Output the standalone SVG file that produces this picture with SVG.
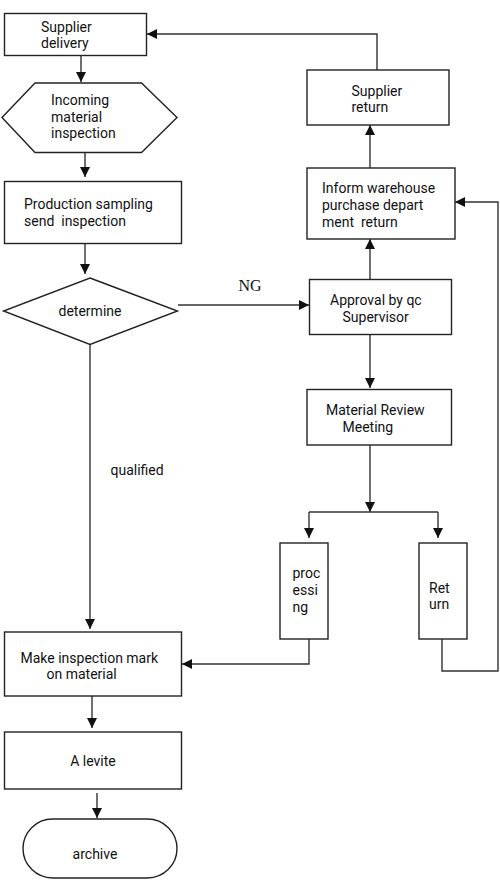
<svg xmlns="http://www.w3.org/2000/svg" width="500" height="890" viewBox="0 0 500 890">
<style>
.box{fill:#fff;stroke:#222;stroke-width:1.4}
.t{font-family:Roboto,"Noto Sans","Liberation Sans",sans-serif;font-size:14px;fill:#111;white-space:pre}
.c{text-anchor:middle}
.ln{fill:none;stroke:#333;stroke-width:1.4}
</style>
<defs>
<marker id="ah" viewBox="0 0 10 10" refX="10" refY="5" markerWidth="10" markerHeight="10" markerUnits="userSpaceOnUse" orient="auto">
<path d="M0,0 L10,5 L0,10 Z" fill="#111"/>
</marker>
</defs>
<rect width="500" height="890" fill="#fff"/>
<g id="connectors">
<path class="ln" d="M377,70 V34 H147" marker-end="url(#ah)"/>
<path class="ln" d="M81,55 V82" marker-end="url(#ah)"/>
<path class="ln" d="M85,153 V177" marker-end="url(#ah)"/>
<path class="ln" d="M85,243 V274" marker-end="url(#ah)"/>
<path class="ln" d="M178,305 H309" marker-end="url(#ah)"/>
<path class="ln" d="M90,344 V629" marker-end="url(#ah)"/>
<path class="ln" d="M92,696 V728" marker-end="url(#ah)"/>
<path class="ln" d="M97,793 V818" marker-end="url(#ah)"/>
<path class="ln" d="M370,279 V239" marker-end="url(#ah)"/>
<path class="ln" d="M370,168 V125" marker-end="url(#ah)"/>
<path class="ln" d="M370,334 V388" marker-end="url(#ah)"/>
<path class="ln" d="M370,445 V512" marker-end="url(#ah)"/>
<path class="ln" d="M309,512 H438"/>
<path class="ln" d="M309,512 V538" marker-end="url(#ah)"/>
<path class="ln" d="M438,512 V538" marker-end="url(#ah)"/>
<path class="ln" d="M309,639 V664 H182" marker-end="url(#ah)"/>
<path class="ln" d="M442,639 V671 H498 V202 H455" marker-end="url(#ah)"/>
</g>
<g id="supplier-delivery">
<rect class="box" x="4.5" y="13.5" width="142" height="42"/>
<text class="t" x="41" y="32">Supplier</text>
<text class="t" x="41" y="48">delivery</text>
</g>
<g id="incoming-inspection">
<polygon class="box" points="2,117.5 35,83 141.5,83 177,117.5 141.5,152.5 35,152.5"/>
<text class="t" x="51" y="105">Incoming</text>
<text class="t" x="51" y="121.5">material</text>
<text class="t" x="51" y="138">inspection</text>
</g>
<g id="production-sampling">
<rect class="box" x="4.5" y="181.5" width="177" height="62"/>
<text class="t" x="24" y="209">Production sampling</text>
<text class="t" x="24" y="225.5">send  inspection</text>
</g>
<g id="determine">
<polygon class="box" points="90,278 177.5,311 90,344.5 3.5,311"/>
<text class="t c" x="90" y="316">determine</text>
</g>
<g id="ng-label">
<text x="250" y="291" text-anchor="middle" font-family="Liberation Serif,serif" font-size="16" fill="#111">NG</text>
</g>
<g id="qualified-label">
<text class="t" x="110.5" y="475">qualified</text>
</g>
<g id="supplier-return">
<rect class="box" x="307" y="70" width="142" height="55"/>
<text class="t" x="351.5" y="95.5">Supplier</text>
<text class="t" x="351.5" y="111.5">return</text>
</g>
<g id="inform-warehouse">
<rect class="box" x="307" y="168" width="148" height="71"/>
<text class="t" x="322" y="193">Inform warehouse</text>
<text class="t" x="322" y="210">purchase depart</text>
<text class="t" x="322" y="226.5">ment  return</text>
</g>
<g id="approval">
<rect class="box" x="309.5" y="279.5" width="142" height="55"/>
<text class="t" x="330" y="305">Approval by qc</text>
<text class="t" x="342.5" y="321.5">Supervisor</text>
</g>
<g id="material-review">
<rect class="box" x="307" y="389.5" width="144.5" height="55.5"/>
<text class="t" x="326" y="415">Material Review</text>
<text class="t" x="342.5" y="431.5">Meeting</text>
</g>
<g id="processing">
<rect class="box" x="280" y="543" width="48" height="96"/>
<text class="t" x="292.5" y="578">proc</text>
<text class="t" x="292.5" y="595">essi</text>
<text class="t" x="292.5" y="611.5">ng</text>
</g>
<g id="return">
<rect class="box" x="419" y="543" width="48" height="96"/>
<text class="t" x="429" y="592.5">Ret</text>
<text class="t" x="429" y="609">urn</text>
</g>
<g id="make-mark">
<rect class="box" x="4.5" y="632" width="177" height="64"/>
<text class="t" x="20.5" y="662.5">Make inspection mark</text>
<text class="t" x="46.5" y="679">on material</text>
</g>
<g id="a-levite">
<rect class="box" x="4.5" y="732" width="177" height="57"/>
<text class="t c" x="93" y="765.5">A levite</text>
</g>
<g id="archive">
<rect class="box" x="23" y="819" width="154" height="59" rx="29.5" ry="29.5"/>
<text class="t c" x="95" y="859">archive</text>
</g>
</svg>
